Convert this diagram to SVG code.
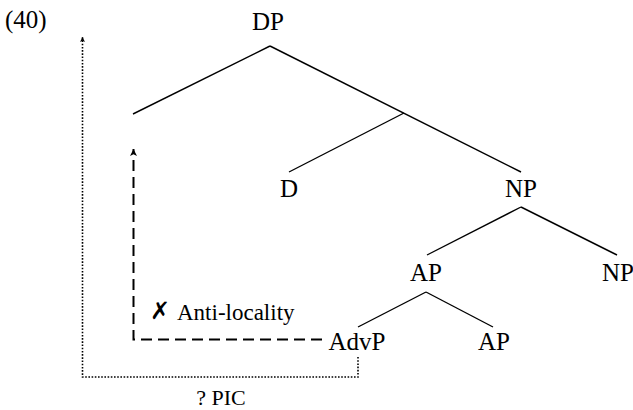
<svg xmlns="http://www.w3.org/2000/svg" width="633" height="410" viewBox="0 0 633 410">
<style>
.n{font-family:"Liberation Serif","Times New Roman",serif;font-size:25px;fill:#000;text-anchor:middle}
.l{font-family:"Liberation Serif","Times New Roman",serif;font-size:22px;fill:#000}
.e{stroke:#000;stroke-width:1.4;fill:none}
.dash{stroke:#000;stroke-width:2;fill:none;stroke-dasharray:11 6}
.dot{stroke:#000;stroke-width:1.6;fill:none;stroke-dasharray:1.6 1.6}
</style>
<defs>
<marker id="ah" viewBox="0 0 10 10" refX="10" refY="5" markerWidth="10" markerHeight="7" markerUnits="userSpaceOnUse" orient="auto"><path d="M0,0 L10,5 L0,10 L2.5,5 Z" fill="#000"/></marker>
<marker id="ah2" viewBox="0 0 10 10" refX="10" refY="5" markerWidth="9" markerHeight="5" markerUnits="userSpaceOnUse" orient="auto"><path d="M0,0 L10,5 L0,10 L2.5,5 Z" fill="#000"/></marker>
</defs>
<text class="l" x="5" y="28" style="font-size:25px">(40)</text>
<g id="connectors">
<line class="e" x1="270" y1="46" x2="133" y2="114"/>
<line class="e" x1="270" y1="46" x2="521" y2="172"/>
<line class="e" x1="404" y1="113" x2="289" y2="172"/>
<line class="e" x1="521" y1="207" x2="427" y2="255"/>
<line class="e" x1="521" y1="207" x2="617" y2="255"/>
<line class="e" x1="426" y1="292" x2="358" y2="327"/>
<line class="e" x1="426" y1="292" x2="493" y2="327"/>
<path class="dash" d="M322,339.5 H133.5 V149" marker-end="url(#ah)"/>
<path class="dot" d="M358,357 V377 H82.5 V37" marker-end="url(#ah2)"/>
</g>
<g id="DP"><text class="n" x="268" y="30">DP</text></g>
<g id="D"><text class="n" x="289" y="197">D</text></g>
<g id="NP"><text class="n" x="521" y="197">NP</text></g>
<g id="AP"><text class="n" x="426" y="281">AP</text></g>
<g id="NP2"><text class="n" x="618" y="281">NP</text></g>
<g id="AdvP"><text class="n" x="357" y="350">AdvP</text></g>
<g id="AP2"><text class="n" x="494" y="350">AP</text></g>
<g id="anti"><text x="150" y="319" style="font-family:'DejaVu Sans',sans-serif;font-size:24px;font-weight:bold">✗</text><text class="l" x="177" y="320" style="font-size:23px">Anti-locality</text></g>
<g id="pic"><text class="l" x="221" y="405" text-anchor="middle">? PIC</text></g>
</svg>
